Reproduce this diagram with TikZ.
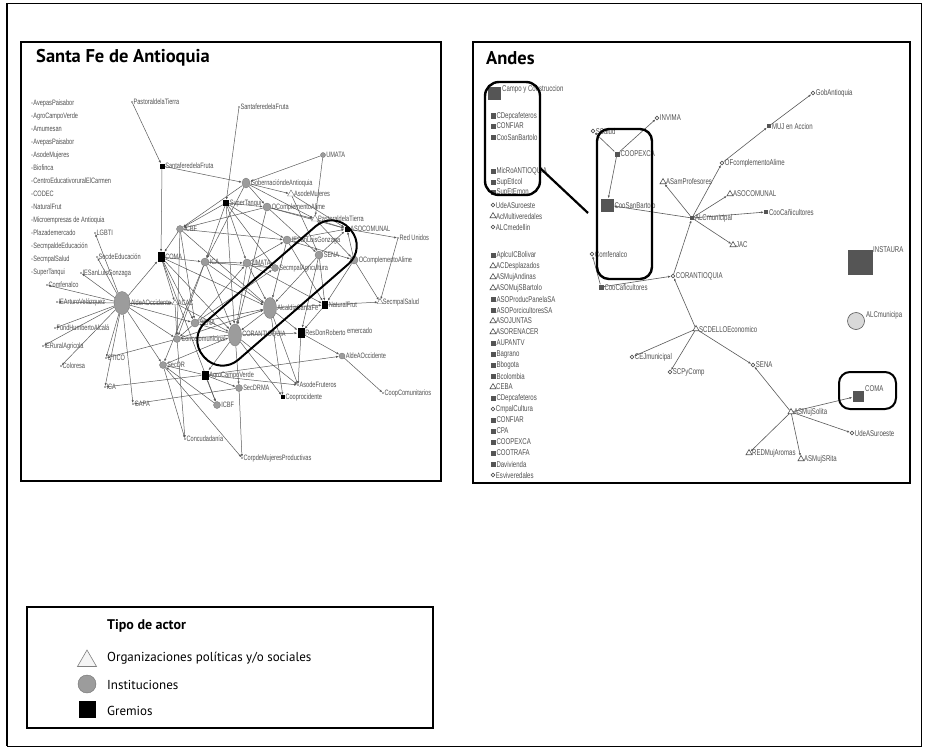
\documentclass[tikz,border=0pt]{standalone}
\usepackage{fontspec}
\setmainfont{PT Sans}
\newfontfamily\labf[FakeStretch=0.72]{Liberation Sans}
\usetikzlibrary{shapes.geometric,arrows.meta,backgrounds}
\definecolor{labgray}{HTML}{505050}
\definecolor{edgegray}{HTML}{5A5A5A}
\definecolor{nodegray}{HTML}{9C9C9C}
\definecolor{nodedark}{HTML}{707070}
\definecolor{andes}{HTML}{555555}
\newcommand{\lf}{\labf\fontsize{7.8}{8.5}\selectfont}
\newcommand{\af}{\labf\fontsize{8.4}{9}\selectfont}
\tikzset{
 sl/.style={label={[font=\lf,text=labgray,inner sep=0.4pt]0:#1}},
 al/.style={label={[font=\af,text=labgray,inner sep=0.6pt]0:#1}},
 gc/.style={circle,fill=nodegray,draw=nodedark,line width=0.3pt,inner sep=0,minimum size=#1},
 ge/.style 2 args={ellipse,fill=nodegray,draw=nodedark,line width=0.3pt,inner sep=0,minimum width=#1,minimum height=#2},
 bsq/.style={rectangle,fill=black,inner sep=0,minimum size=#1},
 btr/.style={regular polygon,regular polygon sides=3,draw=nodedark,fill=white,line width=0.4pt,inner sep=0,minimum size=#1},
 dotn/.style={circle,fill=edgegray,inner sep=0,minimum size=1.6},
 ed/.style={draw=edgegray,line width=0.5pt,-{Latex[length=2.8pt,width=2.2pt]}},
 asq/.style={rectangle,fill=andes,inner sep=0,minimum size=#1},
 asqs/.style={asq=5},
 aci/.style={circle,draw=andes,fill=white,line width=0.7pt,inner sep=0,minimum size=3.6},
 atr/.style={regular polygon,regular polygon sides=3,draw=andes,fill=white,line width=0.6pt,inner sep=0,minimum size=7},
 hl/.style={draw=black,line width=2.4pt,rounded corners=14pt},
 ttl/.style={font=\bfseries\fontsize{18.5}{20}\selectfont,anchor=west,inner sep=0},
}
\begin{document}
\begin{tikzpicture}[x=1pt,y=-1pt]
\useasboundingbox (0,0) rectangle (925,749);
% outer frame
\draw[line width=0.9pt] (7,3) rectangle (921,746);
\draw[line width=2pt] (7,3) -- (7,746);
% panels
\draw[line width=2.2pt] (21,42) rectangle (441,481);
\draw[line width=2.2pt] (473,42) rectangle (910,483);
\node[ttl] (t1) at (36,58) {Santa Fe de Antioquia};
\node[ttl] (t2) at (486,58) {Andes};

% ===== Santa Fe: left list =====
\foreach \nm/\tx/\yy in {s1/AvepasPaisabor/103, s2/AgroCampoVerde/116, s3/Amumesan/129, s4/AvepasPaisabor/142, s5/AsodeMujeres/155, s6/Biofinca/168, s7/CentroEducativoruralElCarmen/181, s8/CODEC/194, s9/NaturalFrut/207, s10/Microempresas de Antioquia/220, s11/Plazademercado/233, s12/SecmpaldeEducación/246, s13/SecmpalSalud/259, s14/SuperTanqui/272}
  \node[dotn,minimum size=1.2,sl=\tx] (\nm) at (32,\yy) {};
\node[dotn,sl=LGBTI] (lgbti) at (95,233) {};
\node[dotn,sl=SecdeEducación] (sedu) at (97,257) {};
\node[dotn,sl=IESanLuisGonzaga] (iesl) at (81,273) {};
\node[dotn,sl=Comfenalco] (comf) at (47,285) {};
\node[dotn,sl=IEArturoVelázquez] (iea) at (57,302) {};
\node[dotn,sl=FundHumbertoAlcalá] (fund) at (55,328) {};
\node[dotn,sl=IERuralAgricola] (ier) at (43,346) {};
\node[dotn,sl=Coloresa] (colo) at (61,366) {};

% ===== Santa Fe: network nodes =====
\node[dotn,sl=PastoraldelaTierra] (pas1) at (132,102) {};
\node[dotn,sl=SantaferedelaFruta] (sfr1) at (239,107) {};
\node[bsq=5,sl=SantaferedelaFruta] (sfr2) at (162,166) {};
\node[bsq=6,sl=SuperTanqui] (sup) at (226,203) {};
\node[ge={8}{10},sl=GobernacióndeAntioquia] (gob) at (246,183) {};
\node[gc=5,sl=UMATA] (uma1) at (323,155) {};
\node[btr=8,sl=AsodeMujeres] (asm) at (291,194) {};
\node[gc=8,sl=OComplementoAlime] (ocp1) at (267,207) {};
\node[btr=8,sl=PastoraldelaTierra] (pas2) at (315,219) {};
\node[bsq=5,sl=ASOCOMUNAL] (asoc) at (347,229) {};
\node[dotn,sl=Red Unidos] (red) at (398,238) {};
\node[gc=7,sl=ICBF] (icbf1) at (180,229) {};
\node[bsq=7,minimum height=10,sl=COMA] (coma) at (161,257) {};
\node[gc=8,sl=ICA] (ica1) at (205,262) {};
\node[gc=8,sl=UMATA] (uma2) at (247,263) {};
\node[gc=8,sl=IESanLuisGonzaga] (iesan) at (287,240) {};
\node[gc=8,sl=SENA] (sena1) at (319,255) {};
\node[gc=8,sl=OComplementoAlime] (ocp2) at (354,260) {};
\node[gc=7,sl=SecmpalAgricultura] (sagr) at (275,268) {};
\node[ge={13}{21},sl=AlcaldiaSantaFe] (alc) at (270,308) {};
\node[ge={13}{22},sl=CORANTIOQUIA] (cor) at (235,335) {};
\node[bsq=6,minimum height=8,sl=NaturalFrut] (nat) at (325,305) {};
\node[btr=7,sl=SecmpalSalud] (ssal) at (380,302) {};
\node[bsq=7,minimum height=10,sl=ResDonRoberto] (res) at (301,333) {};
\node[font=\lf,text=labgray,anchor=west,inner sep=0] (plz) at (347,331) {emercado};
\node[gc=6,sl=AldeAOccidente] (ald2) at (342,356) {};
\node[dotn,sl=CoopComunitarios] (ccom) at (383,393) {};
\node[dotn,sl=AsodeFruteros] (asf) at (298,385) {};
\node[bsq=3.5,sl=Cooprocidente] (cop) at (283,397) {};
\node[gc=7,sl=SecDRMA] (sdrma) at (239,388) {};
\node[bsq=7,minimum height=9,sl=AgroCampoVerde] (agro) at (205,375) {};
\node[gc=7,sl=ICBF] (icbf2) at (217,405) {};
\node[dotn,sl=Concudadanía] (conc) at (185,439) {};
\node[dotn,sl=CorpdeMujeresProductivas] (corp) at (242,458) {};
\node[gc=7,sl=SecDR] (sdr) at (163,365) {};
\node[gc=7,sl=Concejomunicipal] (cjo) at (177,339) {};
\node[gc=8,sl=SENA] (sena2) at (195,323) {};
\node[btr=7,sl=ACAC] (acac) at (175,303) {};
\node[ge={16}{23},sl=AldeAOccidente] (ald) at (122,303) {};
\node[dotn,sl=CTICO] (ctico) at (106,358) {};
\node[dotn,sl=ICA] (ica2) at (105,387) {};
\node[dotn,sl=GAPA] (gapa) at (133,404) {};

% highlight loop
\draw[line width=2pt,rounded corners=24pt,rotate around={41:(277,293)}] (180,268) rectangle (374,318);

% ===== Legend =====
\draw[line width=1.8pt] (27,607) rectangle (433,728);
\node[font=\bfseries\fontsize{14}{16}\selectfont,anchor=west,inner sep=0] (lt) at (107,626) {Tipo de actor};
\node[regular polygon,regular polygon sides=3,draw=gray,fill=gray!8,line width=0.6pt,inner sep=0,minimum size=22] (lg1) at (87,661) {};
\node[circle,fill=nodegray,draw=nodedark,line width=0.4pt,inner sep=0,minimum size=18] (lg2) at (87,684) {};
\node[rectangle,fill=black,inner sep=0,minimum size=17] (lg3) at (87,709) {};
\node[font=\fontsize{13}{15}\selectfont,anchor=west,inner sep=0] (lx1) at (107,658) {Organizaciones políticas y/o sociales};
\node[font=\fontsize{13}{15}\selectfont,anchor=west,inner sep=0] (lx2) at (107,685) {Instituciones};
\node[font=\fontsize{13}{15}\selectfont,anchor=west,inner sep=0] (lx3) at (107,711) {Gremios};

% ===== Andes: left column =====
\node[asq=13] (cyc) at (494,94) {};
\node[font=\af,text=labgray,anchor=west,inner sep=0] (cyct) at (502,89) {Campo y Construccion};
\node[asqs,al=CDepcafeteros] (a1) at (493,116) {};
\node[asqs,al=CONFIAR] (a2) at (493,126) {};
\node[asqs,al=CooSanBartolo] (a3) at (493,137) {};
\node[asqs,al=MicRoANTIOQUIA] (a4) at (493,171) {};
\node[asqs,al=SupEtIcol] (a5) at (493,182) {};
\node[asqs,al=SupEtEmon] (a6) at (493,192) {};
\node[aci,al=UdeASuroeste] (a7) at (493,205) {};
\node[atr,al=AcMultiveredales] (a8) at (493,216) {};
\node[aci,al=ALCmedellin] (a9) at (493,227) {};
\foreach \nm/\ty/\tx [count=\i from 0] in {b1/asqs/AplcuICBolivar, b2/atr/ACDesplazados, b3/atr/ASMujAndinas, b4/atr/ASOMujSBartolo, b5/asqs/ASOProducPanelaSA, b6/asqs/ASOPorcicultoresSA, b7/atr/ASOJUNTAS, b8/atr/ASORENACER, b9/asqs/AUPANTV, b10/asqs/Bagrano, b11/asqs/Bbogota, b12/asqs/Bcolombia, b13/atr/CEBA, b14/asqs/CDepcafeteros, b15/aci/CmpalCultura, b16/asqs/CONFIAR, b17/asqs/CPA, b18/asqs/COOPEXCA, b19/asqs/COOTRAFA, b20/asqs/Davivienda, b21/aci/Esviveredales}
  \node[\ty,al=\tx] (\nm) at (493,255+11*\i) {};

% ===== Andes: network =====
\node[aci,al=SSalud] (ssd) at (593,131) {};
\node[aci,al=INVIMA] (inv) at (657,118) {};
\node[asqs,al=COOPEXCA] (coopx) at (617,154) {};
\node[asq=13,al=CooSanBartolo] (csb) at (607,205) {};
\node[aci,al=Comfenalco] (acomf) at (592,254) {};
\node[asqs,al=CooCaficultores] (ccaf) at (601,287) {};
\node[aci,al=CORANTIOQUIA] (cant) at (673,276) {};
\node[asq=4,al=ALCmunicipal] (alcm) at (692,218) {};
\node[atr,al=ASamProfesores] (asp) at (663,182) {};
\node[aci,al=OFcomplementoAlime] (ofc) at (722,163) {};
\node[asq=4,al=MUJ en Accion] (muj) at (769,126) {};
\node[aci,al=GobAntioquia] (agob) at (813,93) {};
\node[atr,al=ASOCOMUNAL] (aasoc) at (730,194) {};
\node[asq=4,al=CooCañicultores] (ccan) at (766,212) {};
\node[atr,al=JAC] (jac) at (733,245) {};
\node[atr,al=SCDELLOEconomico] (scd) at (696,329) {};
\node[aci,al=CEJmunicipal] (cej) at (632,357) {};
\node[aci,al=SCPyComp] (scp) at (670,372) {};
\node[aci,al=SENA] (asena) at (753,365) {};
\node[atr,al=ASMujSolita] (asms) at (791,412) {};
\node[asq=11] (acoma) at (858,396) {};
\node[font=\af,text=labgray,anchor=west,inner sep=0] (acomat) at (865,389) {COMA};
\node[aci,al=UdeASuroeste] (udea) at (852,433) {};
\node[atr,al=REDMujAromas] (redm) at (749,453) {};
\node[atr,al=ASMujSRita] (asmr) at (801,459) {};
\node[asq=25] (inst) at (860,262) {};
\node[font=\af,text=labgray,anchor=west,inner sep=0] (instt) at (873,250) {INSTAURA};
\node[circle,fill=gray!30,draw=andes,line width=0.6pt,inner sep=0,minimum size=17] (alcp) at (856,321) {};
\node[font=\af,text=labgray,anchor=west,inner sep=0] (alcpt) at (866,315) {ALCmunicipa};

% highlight boxes
\draw[hl] (485,82) rectangle (540,195);
\draw[hl,rounded corners=12pt] (597,129) rectangle (652,279);
\draw[line width=2pt,rounded corners=11pt] (839,372) rectangle (896,409);
\coordinate (hlA) at (540,168);
\coordinate (hlB) at (588,213);
\draw[line width=2.2pt] (hlA) -- (hlB);

% ===== edges =====
\begin{scope}[on background layer]
\fill[white] (0,0) rectangle (925,749);
\foreach \a/\b in {ald/comf, ald/iea, ald/fund, ald/ier, ald/colo, ald/iesl, ald/sedu, ald/lgbti,
  ald/ctico, ald/ica2, ald/gapa, ald/coma, ald/acac, ald/sena2, ald/cjo, ald/sdr,
  pas1/sfr2, sfr2/coma, sfr1/sup, sfr2/gob, uma1/gob, uma1/pas2,
  gob/asm, gob/ocp1, gob/icbf1, gob/ica1, gob/pas2,
  sup/icbf1, sup/ica1, sup/uma2, sup/sagr, sup/ocp1, sup/iesan, sup/cor,
  ocp1/pas2, ocp1/asoc, ocp1/icbf1, ocp1/cor, ocp1/sena1,
  asm/asoc, asm/sena1, pas2/asoc, pas2/ocp2,
  icbf1/coma, icbf1/iesan, icbf1/sena2, icbf1/cjo, icbf1/alc,
  coma/ica1, coma/acac, coma/sena2, coma/alc, coma/cor, coma/icbf2,
  ica1/uma2, ica1/sagr, ica1/cor, ica1/sdr, ica1/cjo, ica1/alc,
  uma2/iesan, uma2/sagr, uma2/cor, uma2/alc, uma2/nat,
  iesan/ocp2, iesan/asoc, iesan/alc, iesan/nat,
  sena1/alc, sena1/asoc, sena1/nat, sena1/res,
  ocp2/ssal, ocp2/nat, ocp2/asoc, asoc/red, red/ssal,
  alc/cor, alc/nat, alc/res, alc/cop, alc/asf,
  cor/res, cor/sena2, cor/agro, cor/sdrma, cor/cjo, cor/cop, cor/asf,
  nat/ssal, nat/res, res/ald2, res/asf, ald2/ccom,
  agro/ald2, agro/ica2, agro/sdr, agro/asf, agro/sdrma, agro/icbf2,
  sdrma/corp, sdrma/gapa, icbf2/sdr, cjo/conc, sdr/conc, cjo/ctico, sdr/corp,
  sena2/alc, sena2/cjo, sena2/uma2, sena2/sagr, cjo/alc, sdr/cor, acac/cor, acac/cjo}
  \draw[ed] (\a) -- (\b);
\foreach \a/\b in {coopx/ssd, coopx/inv, coopx/csb, alcm/csb, ccaf/acomf, ccaf/cant, cant/alcm,
  alcm/asp, alcm/ofc, ofc/muj, muj/agob, alcm/aasoc, alcm/ccan, alcm/jac,
  scd/cant, scd/cej, scd/scp, scd/asena, asms/asena, asms/acoma, asms/udea, asms/redm, asms/asmr}
  \draw[ed,line width=0.6pt] (\a) -- (\b);
\end{scope}
\end{tikzpicture}
\end{document}
